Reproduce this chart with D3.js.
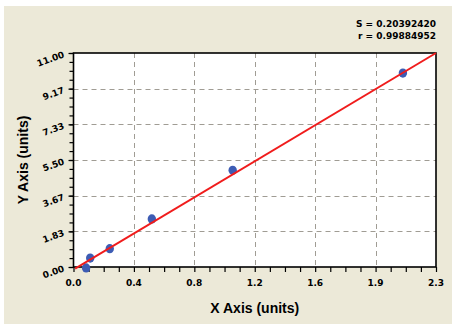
<!DOCTYPE html>
<html>
<head>
<meta charset="utf-8">
<script src="https://cdn.jsdelivr.net/npm/d3@7"></script>
<style>
  body { margin: 0; background: #ffffff; }
  .tick-label { font-family: "DejaVu Sans", sans-serif; font-weight: bold; font-size: 9px; fill: #000; }
  .title { font-family: "Liberation Sans", Arial, sans-serif; font-weight: bold; font-size: 14px; fill: #000; }
  .stat { font-family: "DejaVu Sans", sans-serif; font-weight: bold; font-size: 9px; fill: #000; }
</style>
</head>
<body>
<div class="container"></div>
<script>
// measured points
const pointX = [0.08, 0.106, 0.23, 0.497, 1.01, 2.09]
const pointY = [-0.05, 0.46, 0.94, 2.47, 4.97, 9.97]

// fitted line end points
const fitX = [0.01, 2.3]
const fitY = [-0.08, 11.0]

const xTicks = [0, 0.3833, 0.7667, 1.15, 1.5333, 1.9167, 2.3]
const xTickLabels = ["0.0", "0.4", "0.8", "1.2", "1.6", "1.9", "2.3"]
const yTicks = [0, 1.8333, 3.6667, 5.5, 7.3333, 9.1667, 11]
const yTickLabels = ["0.00", "1.83", "3.67", "5.50", "7.33", "9.17", "11.00"]

const statLines = ["S = 0.20392420", "r = 0.99884952"]

const w = 459
const h = 331
const plotLeft = 73.5, plotRight = 436, plotTop = 53, plotBottom = 267

const xScale = d3.scaleLinear().domain([0, 2.3]).range([plotLeft, plotRight])
const yScale = d3.scaleLinear().domain([0, 11]).range([plotBottom, plotTop])

const svg = d3.select(".container")
  .append("svg")
  .attr("width", w)
  .attr("height", h)

// beige panel
svg.append("rect")
  .attr("x", 4).attr("y", 6)
  .attr("width", 448).attr("height", 318)
  .attr("fill", "#ece9d8")

svg.append("rect")
  .attr("x", plotLeft).attr("y", plotTop)
  .attr("width", plotRight - plotLeft).attr("height", plotBottom - plotTop)
  .attr("fill", "#ffffff")

// dashed grid
svg.append("g")
  .selectAll("line")
  .data(xTicks.slice(1, -1))
  .enter()
  .append("line")
  .attr("x1", (d) => Math.round(xScale(d)) + 0.5)
  .attr("x2", (d) => Math.round(xScale(d)) + 0.5)
  .attr("y1", plotTop).attr("y2", plotBottom)
  .attr("stroke", "#a09c94")
  .attr("stroke-dasharray", "5,4")

svg.append("g")
  .selectAll("line")
  .data(yTicks.slice(1, -1))
  .enter()
  .append("line")
  .attr("y1", (d) => Math.round(yScale(d)) + 0.5)
  .attr("y2", (d) => Math.round(yScale(d)) + 0.5)
  .attr("x1", plotLeft).attr("x2", plotRight)
  .attr("stroke", "#a09c94")
  .attr("stroke-dasharray", "5,4")

// minor ticks
const xMinor = d3.range(25).map((i) => i * 2.3 / 24)
const yMinor = d3.range(25).map((i) => i * 11 / 24)

svg.append("g")
  .attr("transform", "translate(0," + plotBottom + ")")
  .call(d3.axisBottom(xScale).tickValues(xMinor).tickSize(5).tickFormat(""))
  .call((g) => g.select(".domain").remove())
  .selectAll("line").attr("stroke", "#000").attr("stroke-width", 1.2)

svg.append("g")
  .attr("transform", "translate(" + plotLeft + ",0)")
  .call(d3.axisLeft(yScale).tickValues(yMinor).tickSize(4).tickFormat(""))
  .call((g) => g.select(".domain").remove())
  .selectAll("line").attr("stroke", "#000").attr("stroke-width", 1.2)

svg.append("g")
  .attr("transform", "translate(" + plotLeft + ",0)")
  .call(d3.axisLeft(yScale).tickValues(yTicks).tickSize(5).tickFormat(""))
  .call((g) => g.select(".domain").remove())
  .selectAll("line").attr("stroke", "#000").attr("stroke-width", 1.2)

// plot frame
svg.append("rect")
  .attr("x", plotLeft).attr("y", plotTop)
  .attr("width", plotRight - plotLeft).attr("height", plotBottom - plotTop)
  .attr("fill", "none")
  .attr("stroke", "#000")
  .attr("stroke-width", 1.6)

// tick labels
svg.append("g")
  .selectAll("text")
  .data(xTicks)
  .enter()
  .append("text")
  .attr("class", "tick-label")
  .attr("x", (d) => xScale(d))
  .attr("y", plotBottom + 18.5)
  .attr("text-anchor", "middle")
  .text((d, i) => xTickLabels[i])

svg.append("g")
  .selectAll("text")
  .data(yTicks)
  .enter()
  .append("text")
  .attr("class", "tick-label")
  .attr("text-anchor", "end")
  .attr("transform", (d) => "translate(65," + (yScale(d) + 4) + ") rotate(-20)")
  .text((d, i) => yTickLabels[i])

// points
svg.append("g")
  .selectAll("ellipse")
  .data(pointX)
  .enter()
  .append("ellipse")
  .attr("cx", (d) => xScale(d))
  .attr("cy", (d, i) => yScale(pointY[i]))
  .attr("rx", 4.2)
  .attr("ry", 4.6)
  .attr("fill", "#3d5cb4")

// fit line
svg.append("path")
  .datum(fitX)
  .attr("d", d3.line().x((d) => xScale(d)).y((d, i) => yScale(fitY[i])))
  .attr("stroke", "#f01c1c")
  .attr("stroke-width", 2)
  .attr("fill", "none")

// axis titles
svg.append("text")
  .attr("class", "title")
  .attr("x", (plotLeft + plotRight) / 2)
  .attr("y", 313)
  .attr("text-anchor", "middle")
  .text("X Axis (units)")

svg.append("text")
  .attr("class", "title")
  .attr("transform", "rotate(-90)")
  .attr("x", -(plotTop + plotBottom) / 2)
  .attr("y", 28)
  .attr("text-anchor", "middle")
  .text("Y Axis (units)")

svg.append("g")
  .selectAll("text")
  .data(statLines)
  .enter()
  .append("text")
  .attr("class", "stat")
  .attr("x", 436)
  .attr("y", (d, i) => 27 + i * 12)
  .attr("text-anchor", "end")
  .text((d) => d)
</script>
</body>
</html>
